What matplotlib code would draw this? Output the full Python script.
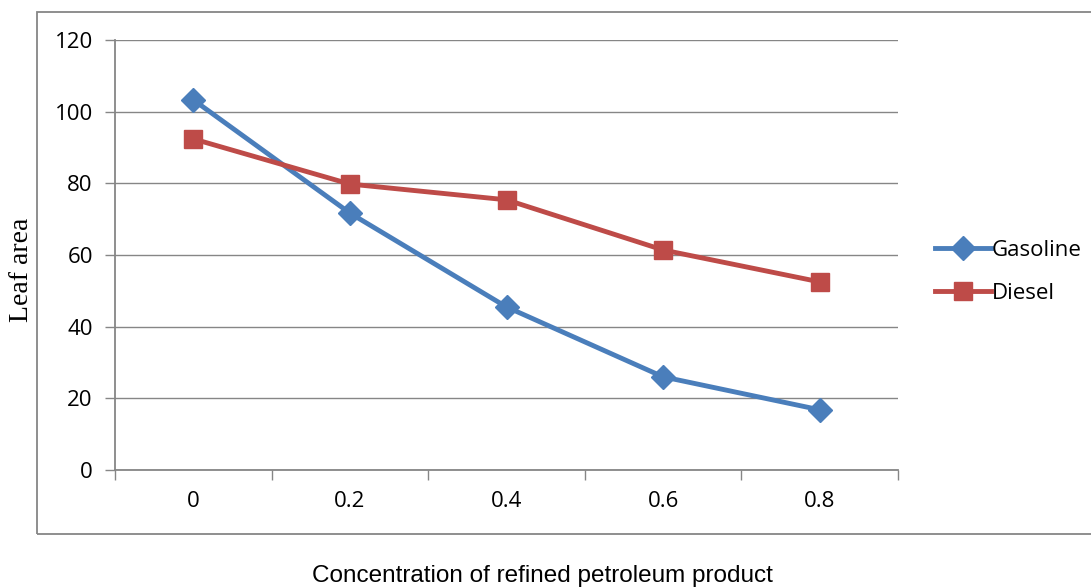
import numpy as np
import matplotlib
matplotlib.use("Agg")
from matplotlib import pyplot as plt
from matplotlib.patches import Rectangle

concentrations = ["0", "0.2", "0.4", "0.6", "0.8"]
gasoline = [103.3, 71.7, 45.5, 26.0, 16.8]
diesel = [92.4, 79.8, 75.4, 61.4, 52.5]
y_ticks = [0, 20, 40, 60, 80, 100, 120]

blue = "#4a7ebb"
red = "#be4b48"
axis_grey = "#868686"

W, H = 1091, 588
fig = plt.figure(figsize=(W / 100, H / 100), dpi=100)

# outer chart frame (runs off the right edge like the original)
fig.patches.append(Rectangle((37 / W, 1 - 534 / H), 1.2, (534 - 12) / H,
                             transform=fig.transFigure, fill=False,
                             edgecolor=axis_grey, linewidth=1.3))

ax = fig.add_axes([115 / W, 1 - 470 / H, (898 - 115) / W, (470 - 40) / H])

x = np.arange(len(concentrations))
ax.plot(x, gasoline, color=blue, linewidth=3.5, marker="D", markersize=12,
        markerfacecolor=blue, markeredgecolor=blue, label="Gasoline")
ax.plot(x, diesel, color=red, linewidth=3.5, marker="s", markersize=13,
        markerfacecolor=red, markeredgecolor=red, label="Diesel")

ax.set_xlim(-0.5, len(concentrations) - 0.5)
ax.set_ylim(0, 120)
ax.set_yticks(y_ticks)
ax.set_yticklabels([str(v) for v in y_ticks], fontfamily="Open Sans", fontsize=16)
ax.yaxis.grid(True, color=axis_grey, linewidth=1)
ax.set_axisbelow(True)

# category labels centred, ticks on the boundaries
ax.set_xticks(x)
ax.set_xticklabels(concentrations, fontfamily="Open Sans", fontsize=16)
ax.tick_params(axis="x", which="major", length=0, pad=15)
ax.set_xticks(np.arange(-0.5, len(concentrations)), minor=True)
ax.tick_params(axis="x", which="minor", length=7, color=axis_grey, width=1)
ax.tick_params(axis="y", length=7, color=axis_grey, width=1, pad=9)

for s in ["top", "right"]:
    ax.spines[s].set_visible(False)
for s in ["left", "bottom"]:
    ax.spines[s].set_color(axis_grey)
    ax.spines[s].set_linewidth(1.3)

fig.text(22 / W, 1 - 270 / H, "Leaf area", rotation=90, ha="center", va="center",
         fontfamily="Liberation Serif", fontsize=20)
fig.text(542 / W, 1 - 576 / H, "Concentration of refined petroleum product",
         ha="center", va="center", fontfamily="Liberation Sans", fontsize=17.5)

ax.legend(loc="center left", bbox_to_anchor=((935 - 115) / 783, (470 - 272) / 430),
          frameon=False, borderpad=0, borderaxespad=0,
          prop={"family": "Open Sans", "size": 16}, handlelength=2.5,
          handletextpad=0.05, labelspacing=1.0)

fig.savefig("out.png", dpi=100)
